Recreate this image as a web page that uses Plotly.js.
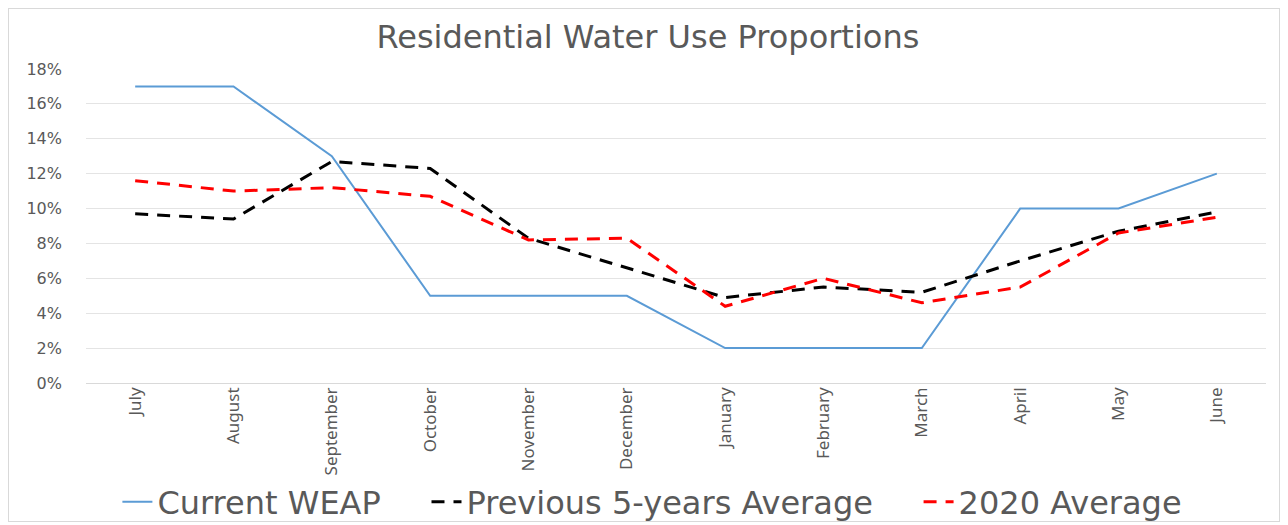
<!DOCTYPE html>
<html>
<head>
<meta charset="utf-8">
<script src="https://cdn.plot.ly/plotly-3.0.1.min.js"></script>
<style>
html,body{margin:0;padding:0;background:#fff;}
#wrap{position:relative;width:1288px;height:525px;}
#frame{position:absolute;left:8px;top:8px;width:1272px;height:514px;border:1px solid #d9d9d9;box-sizing:border-box;pointer-events:none;}
#chart{position:absolute;left:0;top:0;width:1288px;height:525px;}
</style>
</head>
<body>
<div id="wrap"><div id="chart"></div><div id="frame"></div></div>
<script>
const months = ["July","August","September","October","November","December","January","February","March","April","May","June"];
const seriesNames = ["Current WEAP","Previous 5-years Average","2020 Average"];
const currentWEAP = [17,17,13,5,5,5,2,2,2,10,10,12];
const prev5Years = [9.7,9.4,12.7,12.3,8.3,6.6,4.9,5.5,5.2,7.0,8.7,9.8];
const avg2020 = [11.6,11.0,11.2,10.7,8.2,8.3,4.4,6.0,4.6,5.5,8.6,9.5];
const yTicks = [0,2,4,6,8,10,12,14,16,18];

const pad = "\u00a0\u00a0\u00a0\u00a0";
const traces = [
  {x: months, y: currentWEAP, name: seriesNames[0] + pad, type: "scatter", mode: "lines",
   line: {color: "#5b9bd5", width: 2}},
  {x: months, y: prev5Years, name: seriesNames[1] + pad, type: "scatter", mode: "lines",
   line: {color: "#000000", width: 3, dash: "13px,9px"}},
  {x: months, y: avg2020, name: seriesNames[2], type: "scatter", mode: "lines",
   line: {color: "#ff0000", width: 3, dash: "13px,9px"}}
];

const layout = {
  width: 1288, height: 525,
  margin: {l: 86, r: 22, t: 69, b: 142},
  paper_bgcolor: "rgba(0,0,0,0)", plot_bgcolor: "#fff",
  title: {text: "Residential Water Use Proportions", x: 0.503, xanchor: "center",
          yref: "container", y: 0.93, yanchor: "middle",
          font: {family: "DejaVu Sans, sans-serif", size: 32, color: "#595959"}},
  xaxis: {type: "category", tickangle: -90, showgrid: false, zeroline: false, showline: false,
          ticks: "", tickfont: {family: "Noto Sans, sans-serif", size: 17, color: "#595959"},
          range: [-0.5, 11.5], automargin: false},
  yaxis: {range: [0, 18], tickvals: yTicks, ticktext: yTicks.map(v => v + "%"),
          showgrid: true, gridcolor: "#e4e4e4", gridwidth: 1, zeroline: true, zerolinecolor: "#d9d9d9",
          showline: false, ticks: "", ticklabelstandoff: 23, automargin: false,
          tickfont: {family: "DejaVu Sans, sans-serif", size: 16, color: "#595959"}},
  legend: {orientation: "h", x: 0.48, xanchor: "center", yref: "container", y: 0.044, yanchor: "middle",
           font: {family: "DejaVu Sans, sans-serif", size: 32, color: "#595959"},
           tracegroupgap: 0},
  showlegend: true
};

Plotly.newPlot("chart", traces, layout, {displayModeBar: false, staticPlot: true});
</script>
</body>
</html>
